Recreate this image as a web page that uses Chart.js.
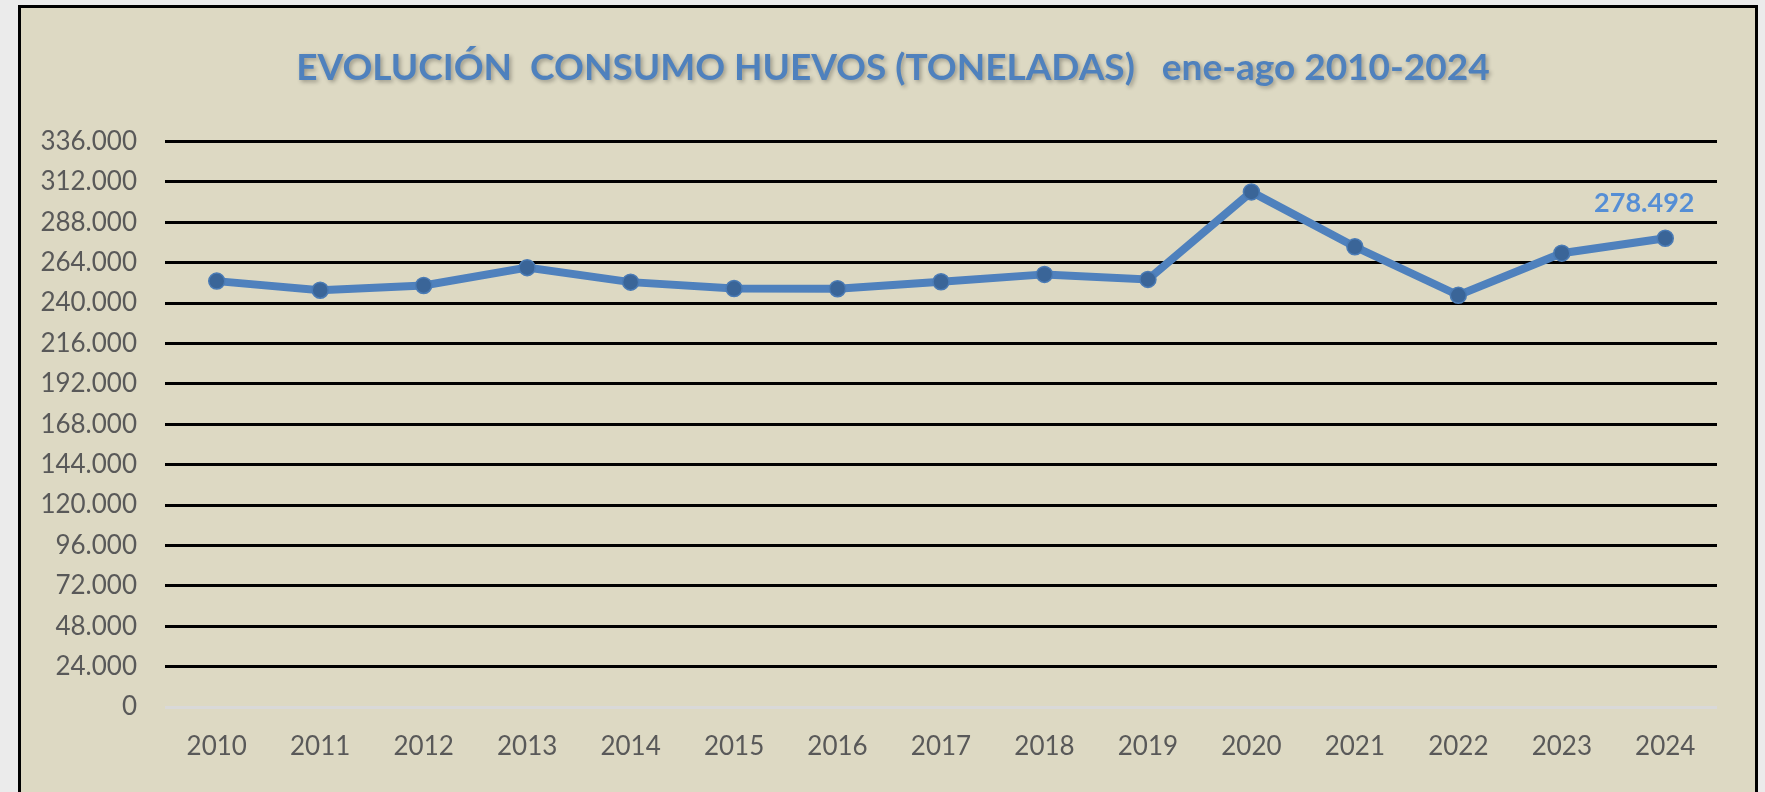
<!DOCTYPE html>
<html>
<head>
<meta charset="utf-8">
<script src="https://cdn.jsdelivr.net/npm/chart.js@4.4.1/dist/chart.umd.min.js"></script>
<style>
  html, body { margin: 0; padding: 0; background: #ebebeb; overflow: hidden; }
  #marco {
    position: absolute; left: 18px; top: 5px; width: 1734px; height: 820px;
    background: #ddd9c3; border: 3px solid #000;
  }
  #contenedor { position: absolute; left: 0; top: 0; width: 1765px; height: 792px; }
</style>
</head>
<body>
<div id="marco"></div>
<div id="contenedor"><canvas id="grafico"></canvas></div>
<script>
// datos
const anios = ['2010', '2011', '2012', '2013', '2014', '2015', '2016', '2017', '2018', '2019', '2020', '2021', '2022', '2023', '2024']
const toneladas = [253000, 247600, 250400, 261000, 252400, 248600, 248500, 252600, 257000, 254000, 306000, 273400, 244600, 269600, 278492]
const ticksY = [0, 24000, 48000, 72000, 96000, 120000, 144000, 168000, 192000, 216000, 240000, 264000, 288000, 312000, 336000]

const titulo = 'EVOLUCIÓN  CONSUMO HUEVOS (TONELADAS)   ene-ago 2010-2024'

function formato(v) {
  return Number(v).toLocaleString('de-DE')
}

// etiqueta solo en el último punto
const etiquetaFinal = {
  id: 'etiquetaFinal',
  afterDatasetsDraw(chart) {
    const meta = chart.getDatasetMeta(0)
    const i = toneladas.length - 1
    const p = meta.data[i]
    const ctx = chart.ctx
    ctx.save()
    ctx.font = 'bold 27px Lato'
    ctx.fillStyle = '#558ed5'
    ctx.textAlign = 'center'
    ctx.textBaseline = 'middle'
    ctx.fillText(formato(toneladas[i]), p.x - 21, p.y - 35)
    ctx.restore()
  }
}

// título centrado sobre el marco y con sombra suave
const ajusteTitulo = {
  id: 'ajusteTitulo',
  afterLayout(chart) {
    const t = chart.titleBlock
    if (!t) return
    t.left = 69
    if (!t._conSombra) {
      const dibujar = t.draw
      t.draw = function (area) {
        const ctx = chart.ctx
        ctx.save()
        ctx.shadowColor = 'rgba(0, 0, 0, 0.3)'
        ctx.shadowBlur = 4
        ctx.shadowOffsetX = 2
        ctx.shadowOffsetY = 2
        dibujar.call(this, area)
        ctx.restore()
      }
      t._conSombra = true
    }
  }
}

const grafico = new Chart(document.getElementById('grafico'), {
  type: 'line',
  data: {
    labels: anios,
    datasets: [
      {
        label: 'Toneladas',
        data: toneladas,
        borderColor: '#4f81bd',
        borderWidth: 8,
        tension: 0,
        pointRadius: 8,
        pointBackgroundColor: '#3a6598',
        pointBorderColor: '#4a7bb5',
        pointBorderWidth: 1.5
      }
    ]
  },
  options: {
    responsive: true,
    maintainAspectRatio: false,
    animation: false,
    layout: { padding: { left: 0, right: 48, top: 0, bottom: 0 } },
    plugins: {
      legend: { display: false },
      tooltip: { enabled: false },
      title: {
        display: true,
        text: titulo,
        color: '#4f81bd',
        font: { family: 'Lato', size: 37, weight: 'bold' },
        padding: { top: 46, bottom: 51 }
      }
    },
    scales: {
      x: {
        offset: true,
        grid: { display: false, drawTicks: false },
        border: { display: false },
        ticks: { color: '#595959', font: { family: 'Lato', size: 26 }, padding: 24 },
        afterFit(scale) { scale.height = 85 }
      },
      y: {
        min: 0,
        max: 336000,
        afterBuildTicks(scale) { scale.ticks = ticksY.map(v => ({ value: v })) },
        grid: {
          drawTicks: false,
          lineWidth: 3,
          color: ctx => (ctx.tick && ctx.tick.value === 0 ? '#d9d9d9' : '#000000')
        },
        border: { display: false },
        ticks: {
          color: '#595959',
          font: { family: 'Lato', size: 26 },
          padding: 28,
          callback: v => formato(v)
        },
        afterFit(scale) { scale.width = 165 }
      }
    }
  },
  plugins: [etiquetaFinal, ajusteTitulo]
})
</script>
</body>
</html>
